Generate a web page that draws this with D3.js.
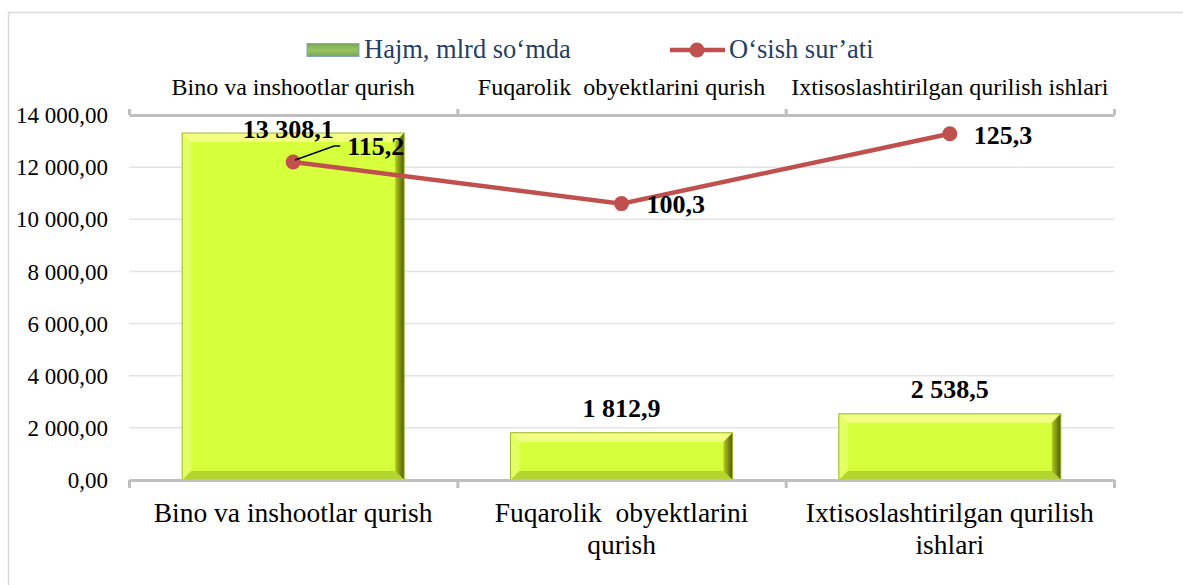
<!DOCTYPE html>
<html>
<head>
<meta charset="utf-8">
<script src="https://cdn.jsdelivr.net/npm/d3@7"></script>
<style>
  body { margin: 0; background: #fff; }
  svg text { font-family: "Liberation Serif", "Times New Roman", serif; white-space: pre; }
</style>
</head>
<body>
<div id="chart"></div>
<script>
var width = 1183;
var height = 585;

// data
var categories = ["Bino va inshootlar qurish", "Fuqarolik  obyektlarini qurish", "Ixtisoslashtirilgan qurilish ishlari"];
var bottomLabels = [["Bino va inshootlar qurish"], ["Fuqarolik  obyektlarini", "qurish"], ["Ixtisoslashtirilgan qurilish", "ishlari"]];
var volume = [13308.1, 1812.9, 2538.5];
var growth = [115.2, 100.3, 125.3];
var yTicks = [0, 2000, 4000, 6000, 8000, 10000, 12000, 14000];
var seriesNames = ["Hajm, mlrd so\u2018mda", "O\u2018sish sur\u2019ati"];

var locale = d3.formatLocale({decimal: ",", thousands: "\u00a0", grouping: [3], currency: ["", ""]});
var fmtAxis = locale.format(",.2f");
var fmtBar = locale.format(",.1f");
var fmtLine = locale.format(".1f");

var svg = d3.select("#chart").append("svg")
    .attr("width", width)
    .attr("height", height);

// chart border
svg.append("rect")
    .attr("x", 8.5).attr("y", 12.5)
    .attr("width", 1200).attr("height", 600)
    .attr("fill", "#fff")
    .attr("stroke", "#d9d9d9")
    .attr("stroke-width", 1.5);

var plotL = 129, plotR = 1114, plotT = 115, plotB = 480;

var x = d3.scaleBand().domain(categories).range([plotL, plotR])
    .paddingInner(0.324).paddingOuter(0.162);
var xCat = d3.scaleBand().domain(categories).range([plotL, plotR]).padding(0);
var xBound = d3.scaleLinear().domain([0, 3]).range([plotL, plotR]);
var y = d3.scaleLinear().domain([0, 14000]).range([plotB, plotT]);
var y2 = d3.scaleLinear().domain([0, 132]).range([484, plotT]);   // hidden secondary axis

var defs = svg.append("defs");
var rg = defs.append("linearGradient").attr("id", "rightBevel")
    .attr("x1", 0).attr("x2", 1).attr("y1", 0).attr("y2", 0);
rg.append("stop").attr("offset", "0%").attr("stop-color", "#b4cc1e");
rg.append("stop").attr("offset", "100%").attr("stop-color", "#4e5a0c");
var lg = defs.append("linearGradient").attr("id", "legendSwatch")
    .attr("x1", 0).attr("x2", 0).attr("y1", 0).attr("y2", 1);
lg.append("stop").attr("offset", "0%").attr("stop-color", "#78a458");
lg.append("stop").attr("offset", "50%").attr("stop-color", "#97c560");
lg.append("stop").attr("offset", "100%").attr("stop-color", "#78a458");

// gridlines
svg.append("g").selectAll("line")
    .data(yTicks.slice(1, -1))
    .enter().append("line")
    .attr("x1", plotL).attr("x2", plotR)
    .attr("y1", function(d) { return y(d); })
    .attr("y2", function(d) { return y(d); })
    .attr("stroke", "#e3e3e3")
    .attr("stroke-width", 1.5);

// y axis labels
var yAxis = d3.axisLeft(y).tickValues(yTicks).tickSize(0).tickPadding(0).tickFormat(fmtAxis);
var yG = svg.append("g")
    .attr("transform", "translate(108,0)")
    .call(yAxis);
yG.select(".domain").remove();
yG.attr("font-family", null);
yG.selectAll("text")
    .attr("font-size", "23px")
    .attr("fill", "#000")
    .attr("dy", "0.33em");

// bars with a bevel
var bev = 9;
var bars = svg.append("g").selectAll("g")
    .data(volume)
    .enter().append("g")
    .attr("transform", function(d, i) { return "translate(" + x(categories[i]) + "," + y(d) + ")"; });

bars.each(function(d) {
    var g = d3.select(this);
    var w = x.bandwidth(), h = plotB - y(d);
    g.append("rect").attr("width", w).attr("height", h).attr("fill", "#d6ff3c");
    g.append("polygon").attr("fill", "#f2ff84")
        .attr("points", [[0, 0], [w, 0], [w - bev, bev], [bev, bev]].join(" "));
    g.append("polygon").attr("fill", "#e4ff63")
        .attr("points", [[0, 0], [bev, bev], [bev, h - bev], [0, h]].join(" "));
    g.append("polygon").attr("fill", "url(#rightBevel)")
        .attr("points", [[w, 0], [w, h], [w - bev, h - bev], [w - bev, bev]].join(" "));
    g.append("polygon").attr("fill", "#b2d531")
        .attr("points", [[0, h], [bev, h - bev], [w - bev, h - bev], [w, h]].join(" "));
    g.append("rect").attr("width", w).attr("height", h)
        .attr("fill", "none").attr("stroke", "#9fb52a").attr("stroke-width", 1);
});

// axes (bottom and top category axes)
var xAxisB = d3.axisBottom(xBound).tickValues([0, 1, 2, 3]).tickFormat("").tickSize(8).tickSizeOuter(0);
var xAxisT = d3.axisTop(xBound).tickValues([0, 1, 2, 3]).tickFormat("").tickSize(6).tickSizeOuter(0);
[[xAxisB, plotB], [xAxisT, plotT]].forEach(function(a) {
    var g = svg.append("g").attr("transform", "translate(0," + a[1] + ")").call(a[0]);
    g.selectAll("path, line").attr("stroke", "#bfbfbf").attr("stroke-width", 3);
});

// bottom category labels
var bl = svg.append("g").selectAll("text")
    .data(bottomLabels)
    .enter().append("text")
    .attr("x", function(d, i) { return xCat(categories[i]) + xCat.bandwidth() / 2; })
    .attr("y", 522)
    .attr("text-anchor", "middle")
    .attr("font-size", "27.5px")
    .attr("fill", "#000");
bl.selectAll("tspan")
    .data(function(d) { return d; })
    .enter().append("tspan")
    .attr("x", function() { return d3.select(this.parentNode).attr("x"); })
    .attr("dy", function(d, i) { return i === 0 ? 0 : 32; })
    .text(function(d) { return d; });

// top category labels
svg.append("g").selectAll("text")
    .data(categories)
    .enter().append("text")
    .attr("x", function(d) { return xCat(d) + xCat.bandwidth() / 2; })
    .attr("y", 95)
    .attr("text-anchor", "middle")
    .attr("font-size", "24px")
    .attr("fill", "#000")
    .text(function(d) { return d; });

// bar value labels
svg.append("g").selectAll("text")
    .data(volume)
    .enter().append("text")
    .attr("x", function(d, i) { return x(categories[i]) + x.bandwidth() / 2 - (i === 0 ? 5 : 0); })
    .attr("y", function(d) { return Math.max(y(d) - 16, plotT + 23); })
    .attr("text-anchor", "middle")
    .attr("font-size", "26px")
    .attr("font-weight", "bold")
    .text(function(d) { return fmtBar(d); });

// growth line
var cx = function(d, i) { return xCat(categories[i]) + xCat.bandwidth() / 2; };
var line = d3.line()
    .x(function(d, i) { return cx(d, i); })
    .y(function(d) { return y2(d); });
svg.append("path")
    .datum(growth)
    .attr("d", line)
    .attr("fill", "none")
    .attr("stroke", "#c0504d")
    .attr("stroke-width", 4.5);
svg.append("g").selectAll("circle")
    .data(growth)
    .enter().append("circle")
    .attr("cx", cx)
    .attr("cy", function(d) { return y2(d); })
    .attr("r", 7.5)
    .attr("fill", "#c0504d");

// line labels (first one is moved with a leader line)
var labelShift = [[54, -7], [25, 9], [24, 10]];
svg.append("g").selectAll("text")
    .data(growth)
    .enter().append("text")
    .attr("x", function(d, i) { return cx(d, i) + labelShift[i][0]; })
    .attr("y", function(d, i) { return y2(d) + labelShift[i][1]; })
    .attr("font-size", "26px")
    .attr("font-weight", "bold")
    .text(function(d) { return fmtLine(d); });
var p0x = cx(growth[0], 0), p0y = y2(growth[0]);
svg.append("path")
    .attr("d", "M" + (p0x + 2) + "," + (p0y - 2) + "L" + (p0x + 41) + "," + (p0y - 16) + "L" + (p0x + 47) + "," + (p0y - 16))
    .attr("fill", "none")
    .attr("stroke", "#000")
    .attr("stroke-width", 1.5);

// legend
var legend = svg.append("g");
legend.append("rect")
    .attr("x", 307).attr("y", 43.5).attr("width", 52).attr("height", 13)
    .attr("fill", "url(#legendSwatch)")
    .attr("stroke", "#8aa4c0").attr("stroke-width", 1);
legend.append("text")
    .attr("x", 364).attr("y", 58)
    .attr("font-size", "26.5px")
    .attr("fill", "#243f66")
    .text(seriesNames[0]);
legend.append("line")
    .attr("x1", 670).attr("x2", 725).attr("y1", 50).attr("y2", 50)
    .attr("stroke", "#c0504d").attr("stroke-width", 4.5);
legend.append("circle")
    .attr("cx", 697).attr("cy", 50).attr("r", 7.5)
    .attr("fill", "#c0504d");
legend.append("text")
    .attr("x", 729).attr("y", 58)
    .attr("font-size", "26.5px")
    .attr("fill", "#243f66")
    .text(seriesNames[1]);
</script>
</body>
</html>
